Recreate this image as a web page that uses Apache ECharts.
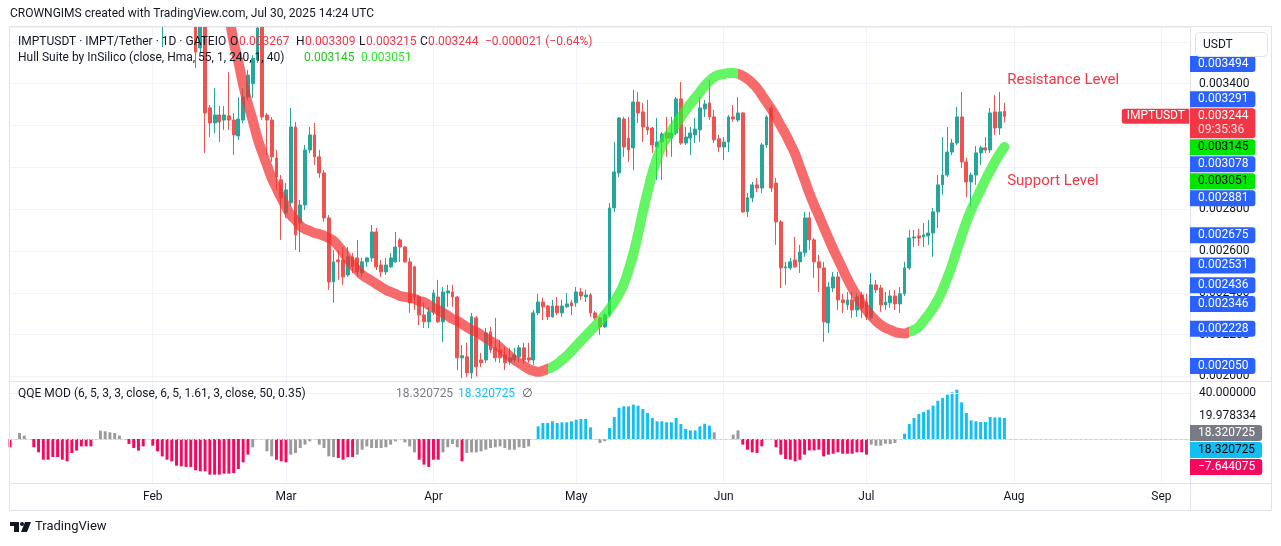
<!DOCTYPE html>
<html>
<head>
<meta charset="utf-8">
<title>IMPTUSDT 1D</title>
<script src="https://cdn.jsdelivr.net/npm/echarts@6/dist/echarts.min.js"></script>
<style>
  html, body { margin: 0; padding: 0; background: #fff; }
  #chart { width: 1281px; height: 546px; }
</style>
</head>
<body>
<div id="chart"></div>
<script>
// prices are kept in millionths of USDT (3244 -> 0.003244)
const UNIT = 1e-6

// daily candles, first one on 2025-02-03 (nulls: above the visible range)
const candleStart = '2025-02-03'
const candleOpen = [
  3720, null, null, null, null, null, null, 3700, 3571, 3671,
  3284, 3212, 3250, 3226, 3246, 3226, 3150, 3226, 3336, 3400,
  3513, 3671, 3250, 3226, 3045, 2940, 2782, 2830, 3193, 2734,
  2820, 3083, 3155, 3050, 2973, 2758, 2452, 2557, 2557, 2485,
  2572, 2567, 2495, 2548, 2567, 2691, 2533, 2500, 2524, 2548,
  2653, 2619, 2548, 2524, 2380, 2294, 2261, 2309, 2380, 2261,
  2399, 2404, 2380, 2089, 2094, 2017, 2280, 2079, 2079, 2213,
  2137, 2127, 2103, 2070, 2079, 2094, 2137, 2089, 2079, 2304,
  2356, 2337, 2285, 2337, 2304, 2333, 2352, 2352, 2404, 2380,
  2390, 2304, 2280, 2237, 2294, 2806, 2973, 3231, 3140, 3093,
  3312, 3265, 3193, 3188, 3097, 3121, 3164, 3140, 3164, 3327,
  3116, 3140, 3155, 3179, 3279, 3308, 3241, 3136, 3097, 3121,
  3241, 3226, 3260, 2787, 2854, 2916, 2901, 3107, 3284, 2925,
  2739, 2519, 2519, 2557, 2548, 2591, 2758, 2653, 2548, 2519,
  2256, 2423, 2476, 2366, 2342, 2366, 2318, 2390, 2356, 2280,
  2438, 2423, 2342, 2352, 2385, 2347, 2395, 2519, 2662, 2672,
  2667, 2672, 2686, 2787, 2916, 2963, 3073, 3116, 3241, 3026,
  2930, 2963, 3069, 3093, 3083, 3265, 3188, 3267
]
const candleHigh = [
  3780, null, null, null, null, null, null, 3720, 3700, 3690,
  3298, 3379, 3293, 3293, 3456, 3260, 3336, 3379, 3465, 3537,
  3680, 3690, 3260, 3240, 3083, 2963, 2925, 3284, 3217, 2844,
  3107, 3193, 3212, 3083, 2987, 2772, 2605, 2605, 2619, 2619,
  2591, 2653, 2567, 2572, 2724, 2710, 2557, 2567, 2591, 2691,
  2662, 2624, 2567, 2530, 2390, 2352, 2333, 2414, 2462, 2428,
  2438, 2438, 2385, 2151, 2161, 2304, 2290, 2113, 2232, 2237,
  2280, 2175, 2141, 2137, 2137, 2151, 2161, 2161, 2318, 2395,
  2376, 2342, 2366, 2380, 2366, 2399, 2366, 2428, 2423, 2414,
  2399, 2313, 2285, 2304, 2830, 3121, 3241, 3241, 3241, 3370,
  3360, 3308, 3322, 3193, 3236, 3169, 3241, 3241, 3336, 3408,
  3193, 3193, 3236, 3336, 3322, 3418, 3274, 3155, 3145, 3250,
  3298, 3336, 3265, 2877, 2930, 2949, 3116, 3250, 3298, 2949,
  2748, 2548, 2567, 2667, 2629, 2787, 2787, 2662, 2581, 2548,
  2452, 2500, 2500, 2395, 2404, 2404, 2395, 2404, 2395, 2495,
  2462, 2438, 2404, 2414, 2414, 2428, 2548, 2701, 2701, 2706,
  2734, 2748, 2806, 2963, 3145, 3193, 3136, 3289, 3360, 3045,
  2975, 3102, 3102, 3145, 3284, 3346, 3360, 3309
]
const candleLow = [
  3575, null, null, null, null, null, null, 3475, 3547, 3069,
  3145, 3164, 3121, 3179, 3179, 3059, 3131, 3212, 3322, 3332,
  3499, 3226, 3059, 3026, 2892, 2653, 2758, 2811, 2605, 2595,
  2796, 3069, 3011, 2949, 2739, 2414, 2352, 2462, 2438, 2476,
  2495, 2476, 2476, 2524, 2548, 2509, 2476, 2485, 2519, 2543,
  2548, 2543, 2304, 2318, 2246, 2232, 2232, 2294, 2256, 2165,
  2333, 2333, 2031, 1993, 1998, 1990, 2000, 2046, 2065, 2113,
  2070, 2065, 2031, 2055, 2065, 2070, 2060, 2065, 2055, 2294,
  2270, 2270, 2280, 2294, 2285, 2328, 2294, 2333, 2366, 2356,
  2285, 2270, 2199, 2232, 2285, 2787, 2954, 3050, 3026, 2987,
  3212, 3121, 3155, 3069, 2940, 2940, 3050, 3050, 3155, 3107,
  3107, 3059, 3116, 3121, 3241, 3226, 3116, 3073, 3035, 3073,
  3217, 3217, 2782, 2763, 2834, 2882, 2877, 3093, 2882, 2629,
  2423, 2438, 2509, 2519, 2495, 2572, 2605, 2471, 2404, 2165,
  2208, 2404, 2318, 2304, 2318, 2280, 2285, 2280, 2270, 2270,
  2399, 2309, 2318, 2328, 2318, 2304, 2385, 2509, 2619, 2624,
  2619, 2629, 2572, 2710, 2868, 2954, 3059, 3107, 2997, 2858,
  2811, 2916, 3011, 3069, 3069, 3155, 3155, 3215
]
const candleClose = [
  3760, null, null, null, null, null, null, 3551, 3680, 3260,
  3212, 3250, 3217, 3250, 3226, 3155, 3231, 3336, 3441, 3520,
  3666, 3241, 3226, 3050, 2954, 2854, 2892, 3193, 2677, 2820,
  3083, 3155, 3050, 2973, 2758, 2452, 2548, 2548, 2476, 2572,
  2524, 2500, 2548, 2567, 2691, 2524, 2500, 2533, 2567, 2619,
  2619, 2548, 2352, 2380, 2294, 2261, 2309, 2399, 2261, 2404,
  2409, 2380, 2089, 2099, 2017, 2285, 2046, 2065, 2208, 2127,
  2089, 2089, 2065, 2089, 2103, 2137, 2079, 2079, 2304, 2356,
  2333, 2285, 2337, 2304, 2337, 2347, 2337, 2404, 2385, 2390,
  2304, 2280, 2237, 2294, 2806, 2978, 3236, 3097, 3083, 3312,
  3260, 3193, 3179, 3107, 3121, 3159, 3140, 3164, 3327, 3116,
  3145, 3164, 3183, 3284, 3303, 3241, 3131, 3097, 3121, 3241,
  3231, 3260, 2787, 2854, 2916, 2901, 3107, 3241, 2901, 2739,
  2519, 2524, 2548, 2524, 2595, 2758, 2653, 2548, 2519, 2261,
  2428, 2476, 2366, 2352, 2366, 2318, 2380, 2328, 2285, 2438,
  2414, 2342, 2356, 2385, 2347, 2395, 2519, 2662, 2667, 2662,
  2677, 2686, 2787, 2916, 2963, 3073, 3116, 3241, 3026, 2930,
  2963, 3069, 3093, 3083, 3260, 3188, 3265, 3244
]

// Hull Suite (HMA 55) centre line, first value on 2025-02-16
const hullStart = '2025-02-16'
const hullValues = [
  3776, 3719, 3599, 3504, 3394, 3303, 3226, 3140, 3073, 3011,
  2949, 2901, 2854, 2811, 2772, 2748, 2720, 2705, 2696, 2686,
  2681, 2672, 2662, 2648, 2624, 2595, 2562, 2533, 2509, 2486,
  2471, 2457, 2442, 2428, 2414, 2404, 2395, 2385, 2380, 2376,
  2371, 2361, 2356, 2342, 2328, 2318, 2304, 2290, 2275, 2266,
  2251, 2237, 2223, 2213, 2199, 2184, 2170, 2156, 2137, 2117,
  2098, 2079, 2065, 2050, 2036, 2027, 2022, 2027, 2036, 2046,
  2060, 2079, 2098, 2122, 2146, 2170, 2194, 2218, 2242, 2266,
  2294, 2323, 2356, 2395, 2442, 2509, 2586, 2681, 2787, 2882,
  2973, 3045, 3102, 3140, 3174, 3207, 3241, 3274, 3303, 3332,
  3360, 3389, 3413, 3432, 3442, 3446, 3451, 3451, 3446, 3437,
  3422, 3403, 3379, 3346, 3312, 3279, 3241, 3198, 3159, 3112,
  3064, 3002, 2940, 2877, 2820, 2768, 2715, 2662, 2610, 2562,
  2514, 2466, 2423, 2385, 2347, 2318, 2290, 2266, 2247, 2232,
  2223, 2213, 2208, 2206, 2213, 2223, 2237, 2266, 2294, 2328,
  2366, 2414, 2471, 2533, 2605, 2672, 2739, 2796, 2844, 2892,
  2940, 2983, 3026, 3064, 3097
]
const hullLegend = [3145, 3051]

// horizontal support / resistance levels
const levelValues = [3494, 3291, 3078, 2881, 2675, 2531, 2436, 2346, 2228, 2050]

// QQE MOD histogram from 2025-01-02; state 1 = bull, -1 = bear, 0 = neutral
const qqeStart = '2025-01-02'
const qqeValues = [
  -7.2, null, 5.2, 2.9, null, -7.2, -11.6, -18, -18, -15.7,
  -15.7, -18, -19.4, -12.2, -10.1, -6.4, -6.4, -6.4, null, 7.2,
  6.7, 5.8, 5.2, 2.9, null, -4.3, -7.8, -10.1, -6.4, null,
  -5.8, -10.7, -15.1, -18, -19.4, -23.2, -23.8, -24.3, -24.3, -27.2,
  -28.1, -28.1, -31, -31, -31, -30.1, -30.1, -29.6, -26.1, -20.3,
  -13.6, -7.2, null, null, -10.7, -15.1, -18, -19.4, -20.3, -13.6,
  -12.2, -7.8, -4.9, -2.0, null, -4.9, -7.8, -15.1, -15.7, -16.5,
  -18, -15.7, -15.7, -13.6, -9.3, -6.4, -7.8, -7.8, -7.8, -7.2,
  -4.9, -2.0, null, -2.9, -6.4, -11.6, -18, -22.3, -24.3, -18,
  -18, -11.6, -7.2, -4.3, -7.2, -19.4, -12.2, -11.6, -11.6, -10.7,
  -9.3, -7.8, -7.2, -6.4, -7.8, -9.3, -9.3, -7.2, -7.8, -6.4,
  null, 11.0, 13.9, 13.9, 15.4, 13.9, 14.5, 14.5, 15.4, 16.8,
  17.4, 17.4, 10.1, null, -3.5, -2.0, 9.6, 19.1, 27, 28.4,
  28.4, 29.9, 29, 26.1, 22.6, 18.3, 15.4, 15.4, 14.5, 14.5,
  18.3, 13, 8.7, 7.5, 7.5, 11, 13.3, 11.6, 5.8, null,
  null, null, 3.8, 7.5, -4.9, -9.3, -11.6, -12.2, -6.4, null,
  null, -7.2, -13.6, -17.4, -18, -19.4, -18, -13.6, -9.9, -9.9,
  -9.3, -15.1, -13.6, -12.8, -11.6, -12.8, -12.8, -12.8, -11.6, -11.6,
  -13.6, -4.9, -5.8, -5.8, -4.1, -4.3, -3.5, null, 4.6, 13,
  18.3, 21.7, 23.5, 25.5, 29, 33.3, 35.7, 38.6, 40.6, 42.9,
  31.9, 22.6, 16.2, 15.4, 14.8, 14.8, 19.1, 18.8, 18.8, 18.320725
]
const qqeState = [
  -1, 0, 0, 0, 0, -1, -1, -1, -1, -1,
  -1, -1, -1, -1, -1, -1, -1, -1, 0, 0,
  0, 0, 0, 0, 0, -1, -1, -1, -1, 0,
  -1, -1, -1, -1, -1, -1, -1, -1, -1, -1,
  -1, -1, -1, -1, -1, -1, -1, -1, -1, -1,
  -1, 0, 0, 0, 0, 0, -1, -1, -1, 0,
  0, 0, 0, 0, 0, 0, 0, 0, 0, -1,
  -1, -1, -1, 0, 0, 0, 0, 0, 0, 0,
  0, 0, 0, 0, 0, 0, -1, -1, -1, -1,
  -1, 0, 0, 0, 0, -1, 0, 0, 0, 0,
  0, 0, 0, 0, 0, 0, 0, 0, 0, 0,
  0, 1, 1, 1, 1, 1, 1, 1, 1, 1,
  1, 1, 1, 0, 0, 0, 1, 1, 1, 1,
  1, 1, 1, 1, 1, 1, 1, 1, 1, 1,
  1, 1, 1, 1, 1, 1, 1, 1, 0, 0,
  0, 0, 0, 0, -1, -1, -1, -1, -1, 0,
  0, -1, -1, -1, -1, -1, -1, -1, -1, -1,
  -1, -1, -1, -1, -1, -1, -1, -1, -1, -1,
  -1, 0, 0, 0, 0, 0, 0, 0, 1, 1,
  1, 1, 1, 1, 1, 1, 1, 1, 1, 1,
  1, 1, 1, 1, 1, 1, 1, 1, 1, 1
]
// right-axis readouts of the QQE pane
const qqeAxisTexts = [40, 19.978334]
const qqeReadouts = [18.320725, 18.320725, -7.644075]

const FONT = 'Roboto, "DejaVu Sans", sans-serif'
const DARK = '#131722'
const UP = '#26a69a'
const DOWN = '#ef5350'
const LEVEL_BLUE = '#2962ff'
const HULL_UP = 'rgba(40, 242, 40, 0.72)'
const HULL_DOWN = 'rgba(242, 50, 50, 0.72)'
const QQE_COLORS = { '1': '#12bff5', '-1': '#f7085f', '0': '#9a9a9a' }
const MONTHS = ['Jan', 'Feb', 'Mar', 'Apr', 'May', 'Jun', 'Jul', 'Aug', 'Sep', 'Oct', 'Nov', 'Dec']

const PLOT_LEFT = 10
const PLOT_RIGHT = 1190
const MAIN_TOP = 27
const MAIN_BOTTOM = 381
const QQE_BOTTOM = 483

// one category per day, Jan 2 .. Sep 7
const dates = []
for (let t = Date.UTC(2025, 0, 2); t <= Date.UTC(2025, 8, 7); t += 864e5) {
  dates.push(new Date(t).toISOString().slice(0, 10))
}
const isMonthStart = (idx, d) => d.slice(8) === '01'

const c0 = dates.indexOf(candleStart)
const candleData = dates.map(() => '-')
candleOpen.forEach((o, i) => {
  if (o == null) return
  candleData[c0 + i] = [o * UNIT, candleClose[i] * UNIT, candleLow[i] * UNIT, candleHigh[i] * UNIT]
})

const h0 = dates.indexOf(hullStart)
const hullData = dates.map(() => '-')
const hullPieces = []
hullValues.forEach((v, i) => {
  const idx = h0 + i
  hullData[idx] = v * UNIT
  const rising = i >= 2 && v > hullValues[i - 2]
  const color = rising ? HULL_UP : HULL_DOWN
  const last = hullPieces[hullPieces.length - 1]
  if (last && last.color === color) last.lt = idx + 0.5
  else hullPieces.push({ gte: idx - 0.5, lt: idx + 0.5, color })
})

const q0 = dates.indexOf(qqeStart)
const qqeData = dates.map(() => '-')
qqeValues.forEach((v, i) => {
  if (v == null) return
  qqeData[q0 + i] = { value: v, itemStyle: { color: QQE_COLORS[qqeState[i]] } }
})

const levelLines = levelValues.map((v) => ({
  yAxis: v * UNIT,
  lineStyle: { color: LEVEL_BLUE, width: 2, type: 'solid' }
}))
const lastClose = candleClose[candleClose.length - 1]
levelLines.push({
  yAxis: lastClose * UNIT,
  lineStyle: { color: DOWN, width: 1, type: [1, 3] }
})

// y range of the price pane
const priceMin = 1978.3 * UNIT
const priceMax = 3670.9 * UNIT

const option = {
  animation: false,
  backgroundColor: '#ffffff',
  textStyle: { fontFamily: FONT },
  grid: [
    { left: PLOT_LEFT, top: MAIN_TOP, width: PLOT_RIGHT - PLOT_LEFT, height: MAIN_BOTTOM - MAIN_TOP },
    { left: PLOT_LEFT, top: MAIN_BOTTOM, width: PLOT_RIGHT - PLOT_LEFT, height: QQE_BOTTOM - MAIN_BOTTOM }
  ],
  xAxis: [
    {
      type: 'category', gridIndex: 0, data: dates, boundaryGap: false,
      axisLine: { show: false }, axisTick: { show: false }, axisLabel: { show: false },
      splitLine: { show: true, interval: isMonthStart, lineStyle: { color: '#f0f3fa' } }
    },
    {
      type: 'category', gridIndex: 1, data: dates, boundaryGap: false,
      axisLine: { show: true, lineStyle: { color: '#e0e3eb' } },
      axisTick: { show: false },
      axisLabel: {
        show: true, interval: isMonthStart, margin: 8, color: DARK, fontSize: 12, fontFamily: FONT,
        formatter: (d) => MONTHS[Number(d.slice(5, 7)) - 1]
      },
      splitLine: { show: true, interval: isMonthStart, lineStyle: { color: '#f0f3fa' } }
    }
  ],
  yAxis: [
    {
      type: 'value', gridIndex: 0, position: 'right', min: priceMin, max: priceMax,
      splitNumber: 8,
      axisLine: { show: true, lineStyle: { color: '#e0e3eb' } },
      axisTick: { show: false },
      axisLabel: {
        margin: 9, color: DARK, fontSize: 12, fontFamily: FONT,
        showMinLabel: false, showMaxLabel: false,
        formatter: (v) => v.toFixed(6)
      },
      splitLine: { show: true, lineStyle: { color: '#f0f3fa' } }
    },
    {
      type: 'value', gridIndex: 1, position: 'right', min: -38.26, max: 50.43,
      axisLine: { show: true, lineStyle: { color: '#e0e3eb' } },
      axisTick: { show: false }, axisLabel: { show: false }, splitLine: { show: false }
    }
  ],
  visualMap: {
    type: 'piecewise', show: false, dimension: 0, seriesIndex: 1,
    pieces: hullPieces, outOfRange: { color: HULL_DOWN }
  },
  series: [
    {
      name: 'IMPTUSDT', type: 'candlestick', xAxisIndex: 0, yAxisIndex: 0,
      data: candleData, barWidth: '70%', clip: true,
      itemStyle: { color: UP, color0: DOWN, borderColor: UP, borderColor0: DOWN, borderWidth: 1 },
      markLine: { silent: true, symbol: ['none', 'none'], label: { show: false }, data: levelLines }
    },
    {
      name: 'Hull', type: 'line', xAxisIndex: 0, yAxisIndex: 0, data: hullData,
      showSymbol: false, smooth: true, clip: true, z: 5,
      lineStyle: { width: 10, cap: 'round' }
    },
    {
      name: 'QQE', type: 'bar', xAxisIndex: 1, yAxisIndex: 1, data: qqeData, barWidth: '62%',
      markLine: {
        silent: true, symbol: ['none', 'none'], label: { show: false },
        data: [
          { yAxis: 0, lineStyle: { color: '#c9ccd3', width: 1, type: [2, 3] } },
          { yAxis: 40, lineStyle: { color: '#eef0f4', width: 1, type: 'solid' } }
        ]
      }
    }
  ]
}

const chart = echarts.init(document.getElementById('chart'))
chart.setOption(option)

function text(x, y, str, color, size, extra) {
  return {
    type: 'text', x, y, z: 100, silent: true,
    style: Object.assign({ text: str, fill: color, font: (size || 12) + 'px ' + FONT, verticalAlign: 'middle', align: 'left' }, extra || {})
  }
}
function box(y, str, bg, fg) {
  return {
    type: 'text', x: PLOT_RIGHT, y, z: 120, silent: true,
    style: {
      text: str, fill: fg, font: '12px ' + FONT, verticalAlign: 'middle', align: 'left',
      backgroundColor: bg, padding: [2, 7, 2, 8], borderRadius: [0, 3, 3, 0], lineHeight: 12
    }
  }
}
function line(x1, y1, x2, y2, color) {
  return { type: 'line', z: 90, silent: true, shape: { x1, y1, x2, y2 }, style: { stroke: color, lineWidth: 1 } }
}
const fmt = (v) => (v * UNIT).toFixed(6)

function overlays() {
  const py = (v) => chart.convertToPixel({ yAxisIndex: 0 }, v * UNIT)
  const qy = (v) => chart.convertToPixel({ yAxisIndex: 1 }, v)
  const px = (d) => chart.convertToPixel({ xAxisIndex: 0 }, d)
  const g = []

  // keep candles that run off the top out of the header strip
  g.push({ type: 'rect', z: 50, silent: true, shape: { x: 0, y: 0, width: 1281, height: MAIN_TOP - 0.5 }, style: { fill: '#fff' } })

  // frame
  g.push({ type: 'rect', z: 90, silent: true, shape: { x: 9.5, y: MAIN_TOP - 0.5, width: 1262, height: 511 - MAIN_TOP }, style: { fill: null, stroke: '#e0e3eb', lineWidth: 1 } })
  g.push(line(PLOT_RIGHT + 0.5, MAIN_TOP - 0.5, PLOT_RIGHT + 0.5, 510.5, '#e0e3eb'))
  g.push(line(9.5, QQE_BOTTOM + 0.5, 1271.5, QQE_BOTTOM + 0.5, '#e0e3eb'))
  g.push(line(9.5, MAIN_BOTTOM + 0.5, 1271.5, MAIN_BOTTOM + 0.5, '#e0e3eb'))

  // header and legends
  g.push(text(10, 14, 'CROWNGIMS created with TradingView.com, Jul 30, 2025 14:24 UTC', DARK, 12))
  const n = candleClose.length
  const o = candleOpen[n - 1], h = candleHigh[n - 1], l = candleLow[n - 1], c = candleClose[n - 1]
  const chg = c - candleClose[n - 2]
  const pct = (chg / candleClose[n - 2] * 100).toFixed(2)
  const RED = '#f23645'
  g.push(text(18, 42, 'IMPTUSDT · IMPT/Tether · 1D · GATEIO', DARK))
  g.push(text(230, 42, 'O', DARK)); g.push(text(239, 42, fmt(o), RED))
  g.push(text(296, 42, 'H', DARK)); g.push(text(305, 42, fmt(h), RED))
  g.push(text(359, 42, 'L', DARK)); g.push(text(366, 42, fmt(l), RED))
  g.push(text(420, 42, 'C', DARK)); g.push(text(428, 42, fmt(c), RED))
  g.push(text(485, 42, fmt(chg).replace('-', '\u2212') + ' (' + pct.replace('-', '\u2212') + '%)', RED))
  g.push(text(18, 58, 'Hull Suite by InSilico (close, Hma, 55, 1, 240, 1, 40)', DARK))
  g.push(text(304, 58, fmt(hullLegend[0]), '#1ec81e'))
  g.push(text(361, 58, fmt(hullLegend[1]), '#2ee82e'))
  g.push(text(18, 394, 'QQE MOD (6, 5, 3, 3, close, 6, 5, 1.61, 3, close, 50, 0.35)', DARK))
  g.push(text(396, 394, qqeReadouts[0].toFixed(6), '#787b86'))
  g.push(text(458, 394, qqeReadouts[1].toFixed(6), '#12bff5'))
  g.push(text(522, 394, '\u2205', '#555'))

  // annotations
  const ax = px('2025-07-31') - 2
  g.push(text(ax, py(3418), 'Resistance Level', RED, 15))
  g.push(text(ax, py(2935), 'Support Level', RED, 15))

  // current price: tag + two-line box
  const pY = py(lastClose)
  g.push({
    type: 'text', x: PLOT_RIGHT - 1, y: pY, z: 120, silent: true,
    style: { text: 'IMPTUSDT', fill: '#fff', font: '12px ' + FONT, align: 'right', verticalAlign: 'middle', backgroundColor: RED, padding: [2, 4, 1, 5], borderRadius: [3, 0, 0, 3] }
  })
  const redTop = pY - 8
  const redBottom = redTop + 30
  g.push({
    type: 'text', x: PLOT_RIGHT, y: redTop, z: 120, silent: true,
    style: {
      text: '{a|' + fmt(lastClose) + '}\n{b|09:35:36}', verticalAlign: 'top', align: 'left',
      backgroundColor: RED, padding: [1, 7, 1, 8], borderRadius: [0, 3, 3, 0],
      rich: {
        a: { fill: '#fff', font: '12px ' + FONT, lineHeight: 14 },
        b: { fill: '#fde0e2', font: '12px ' + FONT, lineHeight: 14 }
      }
    }
  })

  // axis readouts, pushed apart like the terminal does
  const items = levelValues.map((v) => ({ v, bg: LEVEL_BLUE, fg: '#fff' }))
    .concat(hullLegend.map((v) => ({ v, bg: '#00e600', fg: '#000' })))
  items.forEach((it) => { it.y = py(it.v) })
  const above = items.filter((it) => it.y < pY).sort((a, b) => b.y - a.y)
  const below = items.filter((it) => it.y >= pY).sort((a, b) => a.y - b.y)
  let lim = redTop
  above.forEach((it) => { it.y = Math.min(it.y, lim - 9); lim = it.y - 8 })
  lim = redBottom
  below.forEach((it) => { it.y = Math.max(it.y, lim + 9); lim = it.y + 8 })
  items.forEach((it) => g.push(box(it.y, fmt(it.v), it.bg, it.fg)))

  // USDT unit box
  g.push({ type: 'rect', z: 120, silent: true, shape: { x: 1195.5, y: 32.5, width: 72, height: 24, r: 4 }, style: { fill: '#fff', stroke: '#e0e3eb' } })
  const unit = text(1203, 44.5, 'USDT', DARK, 12)
  unit.z = 121
  g.push(unit)

  // QQE pane readouts
  let qy0 = -Infinity
  qqeAxisTexts.forEach((v) => {
    const y = Math.max(qy(v), qy0 + 17); qy0 = y
    g.push(text(PLOT_RIGHT + 9, y, v.toFixed(6), DARK))
  })
  const qColors = [['#787b86', '#fff'], ['#12bff5', '#000'], ['#f7085f', '#fff']]
  qqeReadouts.forEach((v, i) => {
    const y = Math.max(qy(v), qy0 + 17); qy0 = y
    g.push(box(y, v.toFixed(6).replace('-', '\u2212'), qColors[i][0], qColors[i][1]))
  })

  // brand mark
  g.push({ type: 'rect', z: 100, silent: true, shape: { x: 10, y: 522, width: 9, height: 4 }, style: { fill: DARK } })
  g.push({ type: 'rect', z: 100, silent: true, shape: { x: 14, y: 522, width: 5, height: 10 }, style: { fill: DARK } })
  g.push({ type: 'circle', z: 100, silent: true, shape: { cx: 22, cy: 524, r: 2 }, style: { fill: DARK } })
  g.push({ type: 'polygon', z: 100, silent: true, shape: { points: [[25, 522], [31, 522], [27, 532], [21, 532]] }, style: { fill: DARK } })
  g.push(text(35, 527, 'TradingView', DARK, 13))
  return g
}

chart.setOption({ graphic: overlays() })
</script>
</body>
</html>
